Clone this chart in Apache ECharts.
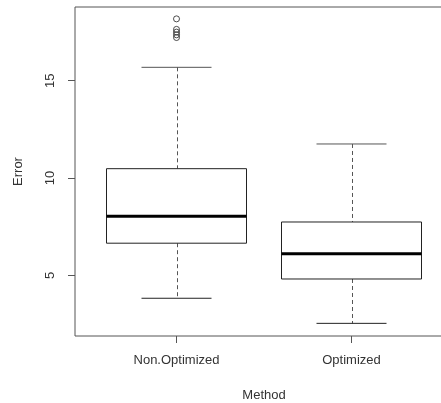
<!DOCTYPE html>
<html>
<head>
<meta charset="utf-8">
<script src="https://cdn.jsdelivr.net/npm/echarts@6/dist/echarts.min.js"></script>
<style>
html,body{margin:0;padding:0;background:#fff;}
#chart{width:441px;height:403px;}
</style>
</head>
<body>
<div id="chart"></div>
<script>
// ---- data ----
var categories = ['Non.Optimized', 'Optimized'];
var whiskerLow = [3.82, 2.53];
var q1 = [6.65, 4.81];
var median = [8.03, 6.11];
var q3 = [10.48, 7.74];
var whiskerHigh = [15.69, 11.75];
var outlierCategory = [0, 0, 0, 0, 0];
var outlierValues = [18.18, 17.64, 17.50, 17.36, 17.22];
var yTicks = [5, 10, 15];
var xTicks = [1, 2];

// ---- build ----
var boxData = categories.map(function (c, i) {
  return [i + 1, whiskerLow[i], q1[i], median[i], q3[i], whiskerHigh[i]];
});
var outlierData = outlierValues.map(function (v, i) {
  return [outlierCategory[i] + 1, v];
});

var chart = echarts.init(document.getElementById('chart'), null, {renderer: 'canvas'});
var txt = '#333';
var axisGray = '#555';
var font = 'Liberation Sans, Arial, sans-serif';

function renderBox(params, api) {
  var x = api.value(0);
  var lo = api.value(1), a = api.value(2), m = api.value(3), b = api.value(4), hi = api.value(5);
  var halfBox = 0.4, halfCap = 0.2;
  var pL = api.coord([x - halfBox, b]);
  var pR = api.coord([x + halfBox, a]);
  var cL = api.coord([x - halfCap, 0])[0];
  var cR = api.coord([x + halfCap, 0])[0];
  var cx = Math.round(api.coord([x, 0])[0]) + 0.5;
  var yLo = api.coord([x, lo])[1], yA = api.coord([x, a])[1], yM = api.coord([x, m])[1],
      yB = api.coord([x, b])[1], yHi = api.coord([x, hi])[1];
  var dash = {stroke: '#555', lineWidth: 1, lineDash: [4, 3]};
  var solid = {stroke: '#222', lineWidth: 1};
  return {
    type: 'group',
    children: [
      {type: 'line', shape: {x1: cx, y1: yHi, x2: cx, y2: yB}, style: dash},
      {type: 'line', shape: {x1: cx, y1: yA, x2: cx, y2: yLo}, style: dash},
      {type: 'line', shape: {x1: cL, y1: yHi, x2: cR, y2: yHi}, style: {stroke: '#555', lineWidth: 1}},
      {type: 'line', shape: {x1: cL, y1: yLo, x2: cR, y2: yLo}, style: solid},
      {type: 'rect', shape: {x: pL[0], y: yB, width: pR[0] - pL[0], height: yA - yB},
        style: {fill: '#fff', stroke: '#222', lineWidth: 1}},
      {type: 'line', shape: {x1: pL[0], y1: yM, x2: pR[0], y2: yM}, style: {stroke: '#000', lineWidth: 3}}
    ]
  };
}

chart.setOption({
  animation: false,
  backgroundColor: '#fff',
  grid: {
    left: 75, width: 378, top: 7, height: 329,
    containLabel: false, outerBoundsMode: 'none',
    show: true, borderColor: axisGray, borderWidth: 1, backgroundColor: 'transparent'
  },
  xAxis: {
    type: 'value', min: 0.42, max: 2.58,
    splitLine: {show: false},
    axisLine: {show: false},
    axisTick: {show: true, length: 7, lineStyle: {color: axisGray}, customValues: xTicks},
    axisLabel: {
      customValues: xTicks, margin: 18,
      color: txt, fontFamily: font, fontSize: 13,
      formatter: function (v) { return categories[Math.round(v) - 1] || ''; }
    },
    name: 'Method', nameLocation: 'middle', nameGap: 53,
    nameTextStyle: {color: txt, fontFamily: font, fontSize: 13}
  },
  yAxis: {
    type: 'value', min: 1.88, max: 18.79,
    splitLine: {show: false},
    axisLine: {show: false},
    axisTick: {show: true, length: 7, lineStyle: {color: axisGray}, customValues: yTicks},
    axisLabel: {
      customValues: yTicks, rotate: 90, margin: 18,
      color: txt, fontFamily: font, fontSize: 13
    },
    name: 'Error', nameLocation: 'middle', nameGap: 50, nameRotate: 90,
    nameTextStyle: {color: txt, fontFamily: font, fontSize: 13}
  },
  series: [
    {
      type: 'custom',
      renderItem: renderBox,
      encode: {x: 0, y: [1, 2, 3, 4, 5]},
      data: boxData,
      clip: false
    },
    {
      type: 'scatter',
      data: outlierData,
      symbol: 'circle',
      symbolSize: 6,
      itemStyle: {color: 'transparent', borderColor: '#222', borderWidth: 1}
    }
  ]
});
</script>
</body>
</html>
